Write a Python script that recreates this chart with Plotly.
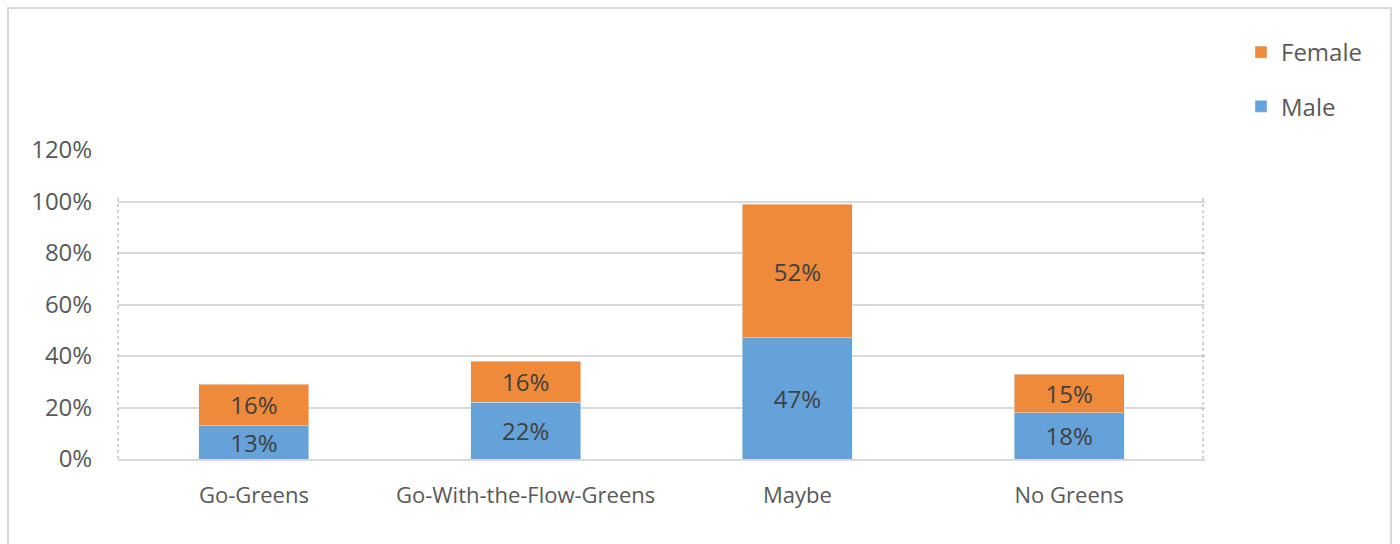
import plotly.graph_objects as go

categories = ["Go-Greens", "Go-With-the-Flow-Greens", "Maybe", "No Greens"]
male = [13, 22, 47, 18]
female = [16, 16, 52, 15]
y_ticks = [0, 20, 40, 60, 80, 100, 120]
y_tick_labels = ["0%", "20%", "40%", "60%", "80%", "100%", "120%"]

MALE_C = "#65A2D9"
FEMALE_C = "#EF8A3A"
FONT = "Open Sans"

fig = go.Figure()
fig.add_trace(go.Bar(
    x=categories, y=male, name="Male", marker_color=MALE_C,
    text=[f"{v}%" for v in male], textposition="inside", insidetextanchor="middle",
    constraintext="none",
    textfont=dict(size=24, color="#404040", family=FONT), legendgroup="m", legendrank=2,
))
fig.add_trace(go.Bar(
    x=categories, y=female, name="Female", marker_color=FEMALE_C,
    text=[f"{v}%" for v in female], textposition="inside", insidetextanchor="middle",
    constraintext="none",
    textfont=dict(size=24, color="#404040", family=FONT), legendgroup="f", legendrank=1,
))

L, R, T, B = 118, 1205, 150, 459
W, H = 1400, 544
pw, ph = R - L, B - T

def px(x):
    return (x - L) / pw

def py(y):
    return (B - y) / ph

fig.update_layout(
    width=W, height=H,
    margin=dict(l=L, r=W - R, t=T, b=H - B, pad=0),
    barmode="stack", bargap=0.595,
    uniformtext=dict(minsize=24, mode="show"),
    plot_bgcolor="white", paper_bgcolor="white",
    font=dict(family=FONT, color="#595959"),
    showlegend=True,
    legend=dict(
        x=px(1241), y=py(30), xanchor="left", yanchor="top",
        traceorder="grouped", tracegroupgap=20,
        font=dict(size=24, color="#595959", family=FONT),
        itemwidth=30, bgcolor="rgba(0,0,0,0)",
    ),
    xaxis=dict(
        showgrid=False, showline=True, linecolor="#d9d9d9", linewidth=2,
        tickfont=dict(size=22, color="#595959"), ticks="outside", ticklen=16,
        tickcolor="rgba(0,0,0,0)",
    ),
    yaxis=dict(
        range=[0, 120], tickvals=y_ticks, ticktext=y_tick_labels,
        showgrid=True, gridcolor="#d9d9d9", gridwidth=2, zeroline=False,
        tickfont=dict(size=24, color="#595959"), ticks="outside", ticklen=20,
        tickcolor="rgba(0,0,0,0)",
    ),
    shapes=[
        dict(type="rect", xref="paper", yref="paper",
             x0=px(8), x1=px(1391), y0=py(545), y1=py(8),
             line=dict(color="#d9d9d9", width=2), fillcolor="rgba(0,0,0,0)", layer="below"),
        dict(type="line", xref="paper", yref="paper",
             x0=px(118), x1=px(118), y0=py(459), y1=py(195),
             line=dict(color="#a6a6a6", width=1, dash="dot")),
        dict(type="line", xref="paper", yref="paper",
             x0=px(1203), x1=px(1203), y0=py(459), y1=py(195),
             line=dict(color="#a6a6a6", width=1, dash="dot")),
    ],
)

fig.write_html("out.html")
